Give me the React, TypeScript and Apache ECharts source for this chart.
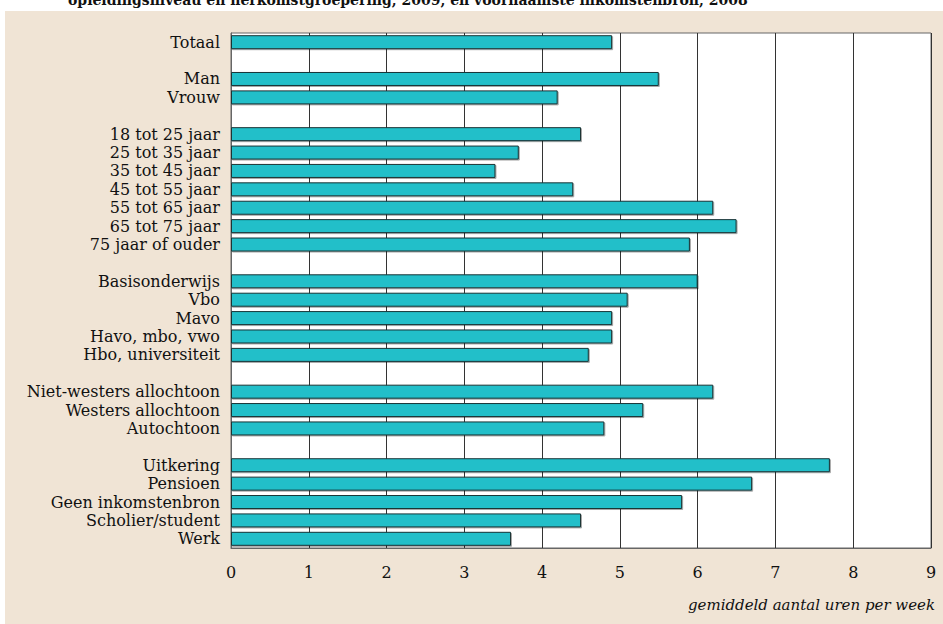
import React, { useEffect, useRef } from "react";
import * as echarts from "echarts";

const totalCats = ["Totaal"];
const totalVals = [4.9];
const sexCats = ["Man", "Vrouw"];
const sexVals = [5.5, 4.2];
const ageCats = ["18 tot 25 jaar", "25 tot 35 jaar", "35 tot 45 jaar", "45 tot 55 jaar", "55 tot 65 jaar", "65 tot 75 jaar", "75 jaar of ouder"];
const ageVals = [4.5, 3.7, 3.4, 4.4, 6.2, 6.5, 5.9];
const eduCats = ["Basisonderwijs", "Vbo", "Mavo", "Havo, mbo, vwo", "Hbo, universiteit"];
const eduVals = [6.0, 5.1, 4.9, 4.9, 4.6];
const originCats = ["Niet-westers allochtoon", "Westers allochtoon", "Autochtoon"];
const originVals = [6.2, 5.3, 4.8];
const incomeCats = ["Uitkering", "Pensioen", "Geen inkomstenbron", "Scholier/student", "Werk"];
const incomeVals = [7.7, 6.7, 5.8, 4.5, 3.6];
const xTicks = [0, 1, 2, 3, 4, 5, 6, 7, 8, 9];

const groups = [
  [totalCats, totalVals],
  [sexCats, sexVals],
  [ageCats, ageVals],
  [eduCats, eduVals],
  [originCats, originVals],
  [incomeCats, incomeVals],
] as [string[], number[]][];

const categories: string[] = [];
const values: (number | string)[] = [];
groups.forEach(([c, v], gi) => {
  if (gi > 0) {
    categories.push("gap" + gi);
    values.push("-");
  }
  c.forEach((name, i) => {
    categories.push(name);
    values.push(v[i]);
  });
});

const FONT = "'DejaVu Serif', serif";

export default function App() {
  const ref = useRef<HTMLDivElement>(null);
  useEffect(() => {
    document.body.style.margin = "0";
    const chart = echarts.init(ref.current!, null, { renderer: "svg" });
    chart.setOption({
      animation: false,
      backgroundColor: "#ffffff",
      graphic: [
        {
          type: "rect",
          z: -10,
          silent: true,
          shape: { x: 5, y: 11, width: 938, height: 613 },
          style: { fill: "#F0E4D5" },
        },
        {
          type: "text",
          left: 68,
          top: -7,
          style: {
            text: "opleidingsniveau en herkomstgroepering, 2009, en voornaamste inkomstenbron, 2008",
            font: "bold 14px " + FONT,
            fill: "#111",
          },
        },
        {
          type: "text",
          right: 8,
          top: 597,
          style: {
            text: "gemiddeld aantal uren per week",
            font: "italic 15px " + FONT,
            fill: "#111",
          },
        },
      ],
      grid: {
        left: 231,
        right: 12,
        top: 33,
        bottom: 76,
        show: true,
        backgroundColor: "#ffffff",
        borderColor: "#666",
        borderWidth: 1,
      },
      xAxis: {
        type: "value",
        min: 0,
        max: 9,
        interval: 1,
        axisLine: { show: true, lineStyle: { color: "#666" } },
        axisTick: { show: false },
        splitLine: { show: true, lineStyle: { color: "#333", width: 1 } },
        axisLabel: {
          margin: 16,
          fontFamily: FONT,
          fontSize: 16,
          color: "#111",
          formatter: (v: number) => (xTicks.includes(v) ? String(v) : ""),
        },
      },
      yAxis: {
        type: "category",
        inverse: true,
        data: categories,
        axisLine: { show: true, lineStyle: { color: "#666" } },
        axisTick: { show: false },
        splitLine: { show: false },
        axisLabel: {
          margin: 11,
          fontFamily: FONT,
          fontSize: 16,
          color: "#111",
          interval: 0,
          formatter: (v: string) => (v.startsWith("gap") ? "" : v),
        },
      },
      series: [
        {
          type: "bar",
          data: values,
          barWidth: 14,
          itemStyle: {
            color: "#21BFC9",
            borderColor: "#1a3436",
            borderWidth: 1,
            shadowColor: "rgba(0,0,0,0.35)",
            shadowOffsetX: 1,
            shadowOffsetY: 1,
            shadowBlur: 1,
          },
        },
      ],
    });
    return () => chart.dispose();
  }, []);
  return (
    <div
      ref={ref}
      style={{ position: "absolute", left: 0, top: 0, width: 943, height: 624 }}
    />
  );
}
